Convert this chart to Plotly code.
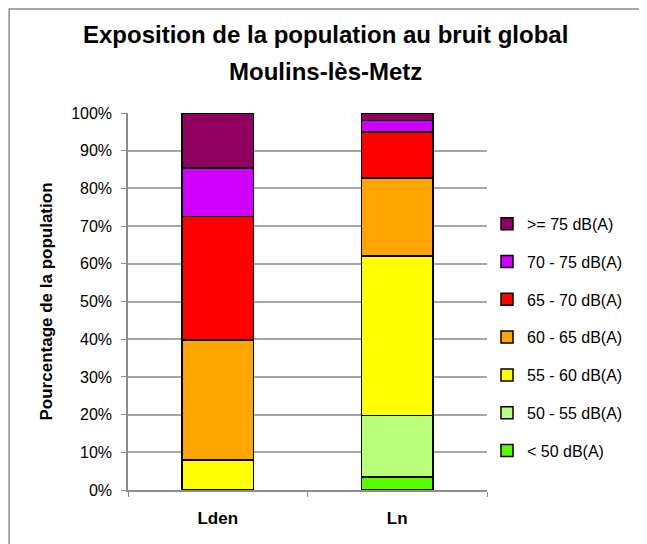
import plotly.graph_objects as go

# Noise exposure share of the population, by indicator (values in %)
categories = ["Lden", "Ln"]
classes = ["< 50 dB(A)", "50 - 55 dB(A)", "55 - 60 dB(A)", "60 - 65 dB(A)",
           "65 - 70 dB(A)", "70 - 75 dB(A)", ">= 75 dB(A)"]
lt50 = [0.0, 3.5]
db50_55 = [0.1, 16.3]
db55_60 = [7.9, 42.3]
db60_65 = [31.8, 20.6]
db65_70 = [32.7, 12.3]
db70_75 = [12.9, 3.0]
ge75 = [14.6, 2.0]
colors = ["#55FF00", "#B8FF7A", "#FFFF00", "#FFA500", "#FF0000", "#D000FF", "#900060"]
title_lines = ["Exposition de la population au bruit global", "Moulins-lès-Metz"]

series = [lt50, db50_55, db55_60, db60_65, db65_70, db70_75, ge75]

FONT = "Liberation Sans, Arial, sans-serif"

fig = go.Figure()
for i, (name, vals, col) in enumerate(zip(classes, series, colors)):
    fig.add_trace(go.Bar(
        x=categories, y=vals, name=name, legendgroup=name,
        legendrank=len(classes) - i,  # loudest class on top of the legend
        marker=dict(color=col, line=dict(color="#000000", width=1.5)),
    ))

# outer chart frame (only left and top edges fall inside the picture)
fig.add_shape(type="rect", xref="paper", yref="paper",
              x0=-0.331, x1=1.6, y0=-0.4, y1=1.276,
              line=dict(color="#8C8C8C", width=1.5), layer="below")

# two-line title, placed as annotations
for text, yp in zip(title_lines, [1.207, 1.109]):
    fig.add_annotation(text=text, xref="paper", yref="paper",
                       x=0.55, y=yp, xanchor="center", yanchor="middle",
                       showarrow=False,
                       font=dict(family=FONT, size=24, color="#000000", weight="bold"))

# page body adds an 8px offset, so the figure is 8px smaller than the window
fig.update_layout(
    barmode="stack",
    bargap=0.6,
    width=639, height=536,
    plot_bgcolor="white", paper_bgcolor="white",
    margin=dict(l=120, r=160, t=105, b=54, autoexpand=False),
    font=dict(family=FONT, size=16, color="#000000"),
    xaxis=dict(
        automargin=False,
        showline=True, linecolor="#8C8C8C", linewidth=1.5,
        ticks="outside", ticklen=5, tickcolor="#8C8C8C", tickson="boundaries",
        ticklabelstandoff=12,
        tickfont=dict(size=17, weight="bold"),
    ),
    yaxis=dict(
        automargin=False,
        range=[0, 100], dtick=10, ticksuffix="%",
        showline=True, linecolor="#8C8C8C", linewidth=1.5,
        ticks="outside", ticklen=5, tickcolor="#8C8C8C",
        ticklabelstandoff=6,
        showgrid=True, gridcolor="#A6A6A6", gridwidth=1.5,
        title=dict(text="Pourcentage de la population", standoff=14,
                   font=dict(size=17, weight="bold")),
        tickfont=dict(size=16),
    ),
    legend=dict(
        traceorder="grouped", x=1.0, xanchor="left", y=0.405, yanchor="middle",
        font=dict(size=16), tracegroupgap=14, itemwidth=30,
        bgcolor="rgba(0,0,0,0)",
    ),
)

fig.write_html("out.html")
